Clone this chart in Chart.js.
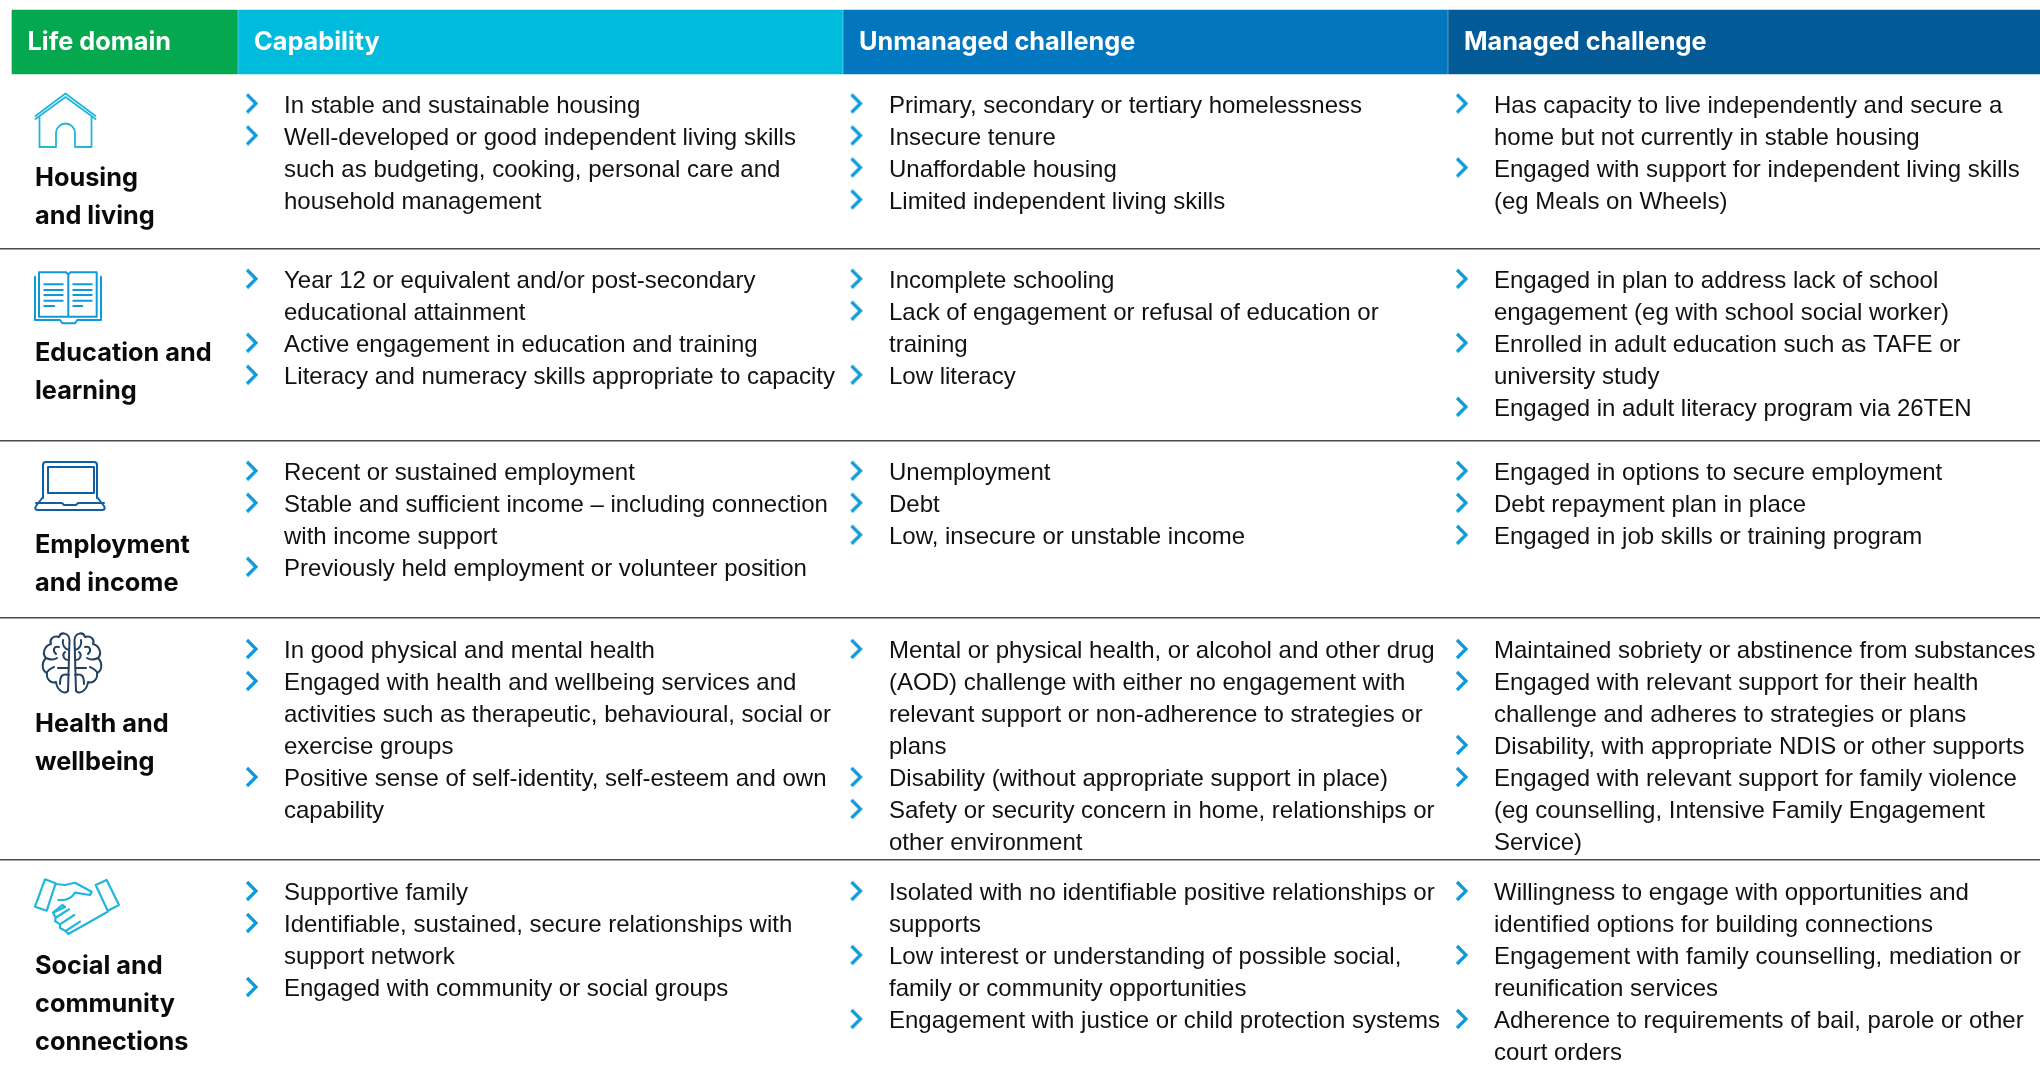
<!DOCTYPE html>
<html>
<head>
<meta charset="utf-8">
<style>
html,body{margin:0;padding:0;background:#fff;}
#wrap{width:2040px;height:1074px;}
</style>
</head>
<body>
<div id="wrap"><canvas id="domainChart"></canvas></div>
<script src="https://cdn.jsdelivr.net/npm/chart.js@4/dist/chart.umd.min.js"></script>
<script>
const headers=["Life domain","Capability","Unmanaged challenge","Managed challenge"];
const lifeDomains=[
["Housing","and living"],
["Education and","learning"],
["Employment","and income"],
["Health and","wellbeing"],
["Social and","community","connections"]
];
const capability=[
[["In stable and sustainable housing"],["Well-developed or good independent living skills","such as budgeting, cooking, personal care and","household management"]],
[["Year 12 or equivalent and/or post-secondary","educational attainment"],["Active engagement in education and training"],["Literacy and numeracy skills appropriate to capacity"]],
[["Recent or sustained employment"],["Stable and sufficient income – including connection","with income support"],["Previously held employment or volunteer position"]],
[["In good physical and mental health"],["Engaged with health and wellbeing services and","activities such as therapeutic, behavioural, social or","exercise groups"],["Positive sense of self-identity, self-esteem and own","capability"]],
[["Supportive family"],["Identifiable, sustained, secure relationships with","support network"],["Engaged with community or social groups"]]
];
const unmanaged=[
[["Primary, secondary or tertiary homelessness"],["Insecure tenure"],["Unaffordable housing"],["Limited independent living skills"]],
[["Incomplete schooling"],["Lack of engagement or refusal of education or","training"],["Low literacy"]],
[["Unemployment"],["Debt"],["Low, insecure or unstable income"]],
[["Mental or physical health, or alcohol and other drug","(AOD) challenge with either no engagement with","relevant support or non-adherence to strategies or","plans"],["Disability (without appropriate support in place)"],["Safety or security concern in home, relationships or","other environment"]],
[["Isolated with no identifiable positive relationships or","supports"],["Low interest or understanding of possible social,","family or community opportunities"],["Engagement with justice or child protection systems"]]
];
const managed=[
[["Has capacity to live independently and secure a","home but not currently in stable housing"],["Engaged with support for independent living skills","(eg Meals on Wheels)"]],
[["Engaged in plan to address lack of school","engagement (eg with school social worker)"],["Enrolled in adult education such as TAFE or","university study"],["Engaged in adult literacy program via 26TEN"]],
[["Engaged in options to secure employment"],["Debt repayment plan in place"],["Engaged in job skills or training program"]],
[["Maintained sobriety or abstinence from substances"],["Engaged with relevant support for their health","challenge and adheres to strategies or plans"],["Disability, with appropriate NDIS or other supports"],["Engaged with relevant support for family violence","(eg counselling, Intensive Family Engagement","Service)"]],
[["Willingness to engage with opportunities and","identified options for building connections"],["Engagement with family counselling, mediation or","reunification services"],["Adherence to requirements of bail, parole or other","court orders"]]
];

// layout, all in page pixels because the axes run 0-2040 and 0-1074
const colEdges=[12,238.5,843.5,1448.5,2040];
const headColors=["#05A84E","#00BBDC","#0277BF","#025B96"];
const rowTops=[74,249.3,441.3,619.5,861.5];
const rowRules=[248.5,440.3,618,859.7];
const bulletCols=[capability,unmanaged,managed];
const bulletX=[252,856.5,1462];
const textX=[284,889,1494];
const LINE=32;
const bodyFont='24px "Liberation Sans"';
const boldFont='700 25.3px Inter';

function chevronImage(){
  const c=document.createElement("canvas");
  c.width=16;c.height=22;
  const g=c.getContext("2d");
  g.strokeStyle="#0E9ADA";g.lineWidth=3.2;
  g.beginPath();g.moveTo(3,2);g.lineTo(12,11);g.lineTo(3,20);g.stroke();
  return c;
}

const bullets=[];
bulletCols.forEach((col,ci)=>{
  col.forEach((row,ri)=>{
    let n=0;
    row.forEach(item=>{
      bullets.push({x:bulletX[ci],y:rowTops[ri]+29.5+n*LINE});
      n+=item.length;
    });
  });
});

function stroke(ctx,color,w,fn){
  ctx.save();
  ctx.strokeStyle=color;ctx.lineWidth=w;ctx.lineJoin="round";ctx.lineCap="round";
  ctx.beginPath();fn(ctx);ctx.stroke();
  ctx.restore();
}

function drawIcons(ctx){
  // house
  stroke(ctx,"#21B6DC",1.8,c=>{
    c.moveTo(35.5,116);c.lineTo(65.5,93.5);c.lineTo(95.5,116);
    c.moveTo(35.5,119);c.lineTo(65.5,97);c.lineTo(95.5,119);
    c.moveTo(39.5,116);c.lineTo(39.5,147);c.lineTo(56,147);c.lineTo(56,133);
    c.arc(65.5,133,9.5,Math.PI,0);
    c.lineTo(75,147);c.lineTo(91.5,147);c.lineTo(91.5,116);
  });
  // book
  stroke(ctx,"#0E9ADA",2,c=>{
    c.moveTo(35,276.7);c.lineTo(35,320);c.lineTo(60,320);c.lineTo(62.3,323.3);c.lineTo(75,323.3);c.lineTo(77.3,320);c.lineTo(101,320);c.lineTo(101,276.7);
    c.moveTo(68.3,316.7);c.lineTo(39,316.7);c.lineTo(39,272.3);c.lineTo(66,272.3);c.lineTo(68.3,274.5);c.lineTo(70.5,272.3);c.lineTo(96.7,272.3);c.lineTo(96.7,316.7);c.lineTo(68.3,316.7);
    c.lineTo(68.3,274.5);
    [284.3,290,295,300.7].forEach(y=>{c.moveTo(44.3,y);c.lineTo(62.7,y);c.moveTo(73.3,y);c.lineTo(91.7,y);});
    c.moveTo(44.3,306);c.lineTo(54.3,306);c.moveTo(73.3,306);c.lineTo(82.3,306);
  });
  // laptop
  stroke(ctx,"#0E5FA3",2,c=>{
    c.moveTo(43,498);c.lineTo(43,465);c.quadraticCurveTo(43,462,46,462);c.lineTo(94,462);c.quadraticCurveTo(97,462,97,465);c.lineTo(97,498);
    c.rect(48,467,46,26);
    c.moveTo(43,497);c.lineTo(36,506);c.quadraticCurveTo(34,510,38,510);c.lineTo(102,510);c.quadraticCurveTo(106,510,104,506);c.lineTo(97,497);
    c.moveTo(36,503);c.lineTo(62,503);c.lineTo(64,505);c.lineTo(76,505);c.lineTo(78,503);c.lineTo(104,503);
  });
  // brain
  stroke(ctx,"#21415F",2,c=>{
    [-1,1].forEach(s=>{
      const X=v=>72+s*v;
      c.moveTo(X(2.5),640);
      c.bezierCurveTo(X(3),633,X(11),631,X(13),637);
      c.bezierCurveTo(X(19),635,X(23),640,X(21),644);
      c.bezierCurveTo(X(28),646,X(30),654,X(26),658);
      c.bezierCurveTo(X(31),663,X(30),671,X(25),673);
      c.bezierCurveTo(X(26),679,X(21),684,X(16),682);
      c.bezierCurveTo(X(15),690,X(8),695,X(4),691);
      c.lineTo(X(2.5),640);
      c.moveTo(X(3),650);c.bezierCurveTo(X(8),649,X(10),644,X(9),640);
      c.moveTo(X(3),660);c.bezierCurveTo(X(9),660,X(10),654,X(7),652);
      c.moveTo(X(13),647);c.bezierCurveTo(X(18),646,X(20),650,X(16),654);
      c.moveTo(X(26),658);c.bezierCurveTo(X(22),660,X(18),660,X(15),658);
      c.moveTo(X(3),668);c.lineTo(X(14),668);
      c.moveTo(X(18),667);c.bezierCurveTo(X(20),668,X(22),668,X(25),672);
      c.moveTo(X(3),675);c.bezierCurveTo(X(10),673,X(12),676,X(12),684);
    });
  });
  // handshake
  stroke(ctx,"#21B6DC",2.2,c=>{
    c.moveTo(45,879.3);c.lineTo(55.7,883.3);c.lineTo(46.7,910.7);c.lineTo(35,906.7);c.closePath();
    c.moveTo(95.7,885);c.lineTo(106.7,880);c.lineTo(119,905);c.lineTo(107.7,910.7);c.closePath();
    c.moveTo(55.7,884);c.lineTo(65,885);c.lineTo(75,882.7);c.lineTo(91.7,891.7);c.lineTo(90,895);c.lineTo(75,892.7);c.quadraticCurveTo(70,901,58.3,900);
    c.moveTo(107.7,911.7);c.lineTo(68.3,934);c.lineTo(65.7,931);c.lineTo(60,928);c.lineTo(60,924.3);c.lineTo(55,921);c.lineTo(55.7,917.7);c.lineTo(53,912.7);c.lineTo(62.3,905);c.lineTo(65,907);c.lineTo(53,912.7);
    c.moveTo(55.7,917.7);c.lineTo(69,909.3);
    c.moveTo(60,924.3);c.lineTo(74.3,915);
    c.moveTo(65.7,931);c.lineTo(80,921.7);
  });
}

const tablePlugin={
  id:"tablePlugin",
  afterDraw(chart){
    const ctx=chart.ctx;
    const sx=chart.scales.x,sy=chart.scales.y;
    ctx.save();
    ctx.textBaseline="alphabetic";
    ctx.textAlign="left";

    ctx.fillStyle="#fff";
    ctx.font=boldFont;
    headers.forEach((h,i)=>{
      ctx.fillText(h,sx.getPixelForValue(colEdges[i]+15.5),sy.getPixelForValue(50));
    });

    ctx.fillStyle="#0a0a0a";
    lifeDomains.forEach((lines,r)=>{
      lines.forEach((t,i)=>{
        ctx.fillText(t,sx.getPixelForValue(35),sy.getPixelForValue(rowTops[r]+112+i*38));
      });
    });

    ctx.font=bodyFont;
    ctx.fillStyle="#111";
    bulletCols.forEach((col,ci)=>{
      col.forEach((row,r)=>{
        let n=0;
        row.forEach(item=>{
          item.forEach(t=>{
            ctx.fillText(t,sx.getPixelForValue(textX[ci]),sy.getPixelForValue(rowTops[r]+38.7+n*LINE));
            n++;
          });
        });
      });
    });
    drawIcons(ctx);
    ctx.restore();
  }
};

new Chart(
document.getElementById("domainChart"),
{
type:"bar",
data:{
datasets:[{
type:"bar",
indexAxis:"y",
data:headers.map((h,i)=>({y:42,x:[colEdges[i],colEdges[i+1]-(i<3?1:0)]})),
backgroundColor:headColors,
barThickness:64,
borderSkipped:false
},{
type:"scatter",
data:bullets,
pointStyle:chevronImage(),
pointRadius:10,
showLine:false
}]
},
options:{
indexAxis:"y",
responsive:true,
maintainAspectRatio:false,
animation:false,
layout:{padding:0,autoPadding:false},
plugins:{legend:{display:false},tooltip:{enabled:false}},
scales:{
x:{type:"linear",min:0,max:2040,display:false,offset:false},
y:{
type:"linear",min:0,max:1074,reverse:true,offset:false,
afterBuildTicks(axis){axis.ticks=rowRules.map(v=>({value:v}));},
ticks:{display:false},
border:{display:false},
grid:{color:"#4a4a4a",lineWidth:1.5,drawTicks:false,offset:false}
}
}
},
plugins:[tablePlugin]
});
</script>
</body>
</html>
